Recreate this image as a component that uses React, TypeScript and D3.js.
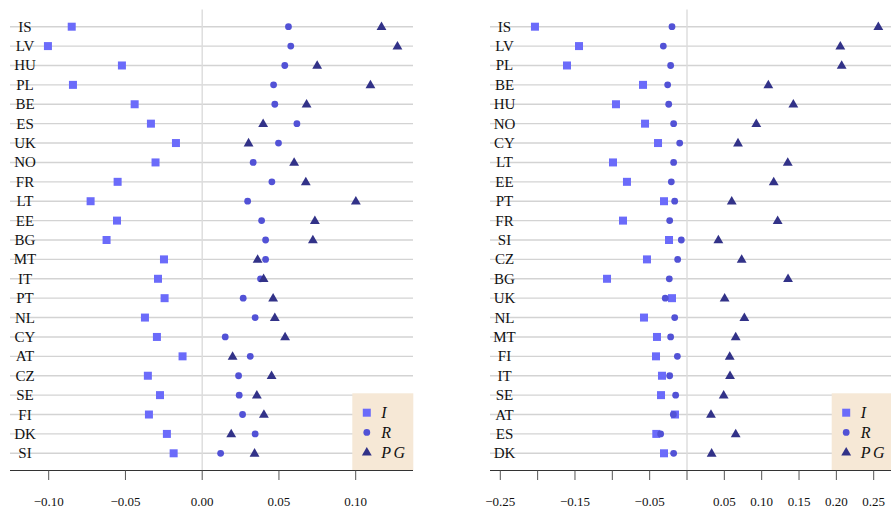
import React from "react";
import * as d3 from "d3";

const leftCountries = ["IS","LV","HU","PL","BE","ES","UK","NO","FR","LT","EE","BG","MT","IT","PT","NL","CY","AT","CZ","SE","FI","DK","SI"];
const leftI = [-0.085,-0.1005,-0.0523,-0.0842,-0.044,-0.0334,-0.0171,-0.0304,-0.0551,-0.0727,-0.0555,-0.0623,-0.0249,-0.0288,-0.0245,-0.0373,-0.0295,-0.0128,-0.0354,-0.0275,-0.0347,-0.023,-0.0186];
const leftR = [0.0562,0.0577,0.0538,0.0465,0.0473,0.0617,0.0497,0.0332,0.0454,0.0296,0.0387,0.0413,0.0413,0.038,0.0267,0.0345,0.015,0.0313,0.0237,0.0241,0.0263,0.0345,0.012];
const leftPG = [0.1168,0.1272,0.0749,0.1096,0.068,0.0397,0.0302,0.0599,0.0675,0.1001,0.0734,0.0721,0.0361,0.04,0.0462,0.0473,0.054,0.0198,0.0452,0.0356,0.0402,0.0189,0.0341];

const rightCountries = ["IS","LV","PL","BE","HU","NO","CY","LT","EE","PT","FR","SI","CZ","BG","UK","NL","MT","FI","IT","SE","AT","ES","DK"];
const rightI = [-0.2036,-0.1446,-0.1607,-0.0589,-0.0951,-0.0562,-0.0388,-0.0991,-0.0804,-0.0308,-0.0857,-0.0241,-0.0536,-0.1071,-0.0201,-0.0576,-0.0402,-0.0415,-0.0335,-0.0348,-0.0161,-0.0411,-0.0308];
const rightR = [-0.0201,-0.0317,-0.0219,-0.0259,-0.0245,-0.0179,-0.0098,-0.0179,-0.021,-0.0165,-0.0232,-0.0076,-0.0125,-0.0237,-0.0291,-0.0165,-0.0219,-0.0129,-0.0232,-0.0152,-0.0183,-0.0353,-0.0179];
const rightPG = [0.2562,0.2053,0.2071,0.1089,0.1424,0.0928,0.0683,0.1349,0.1161,0.0599,0.1214,0.042,0.0732,0.1353,0.0504,0.0768,0.0652,0.0572,0.0576,0.0491,0.0321,0.0652,0.033];

const leftTicks = [-0.1,-0.05,0,0.05,0.1];
const leftTickLabels = ["\u22120.10","\u22120.05","0.00","0.05","0.10"];
const rightTicks = [-0.25,-0.2,-0.15,-0.1,-0.05,0,0.05,0.1,0.15,0.2,0.25];
const rightTickLabels = ["\u22120.25","","\u22120.15","","\u22120.05","","0.05","0.10","0.15","0.20","0.25"];

const seriesNames = ["I","R","PG"];
const COLORS = { I: "#6b6bfa", R: "#5252d6", PG: "#323288" };

const FONT = "Times New Roman, Liberation Serif, Times, serif";

type PanelProps = {
  countries: string[];
  I: number[]; R: number[]; PG: number[];
  domain: [number, number]; range: [number, number];
  ticks: number[]; tickLabels: string[];
  plotLeft: number; plotRight: number; labelX: number;
  legendX: number; legendW: number;
};

function Marker({ kind, x, y }: { kind: string; x: number; y: number }) {
  if (kind === "I") return <rect x={x - 4} y={y - 4} width={8} height={8} fill={COLORS.I} />;
  if (kind === "R") return <circle cx={x} cy={y} r={3.4} fill={COLORS.R} />;
  const tri = d3.symbol().type(d3.symbolTriangle).size(42)();
  return <path d={tri as string} transform={`translate(${x},${y + 0.5})`} fill={COLORS.PG} />;
}

function Panel(p: PanelProps) {
  const x = d3.scaleLinear().domain(p.domain).range(p.range);
  const y = d3.scalePoint<string>().domain(p.countries).range([26.7, 453.3]);
  const axisY = 470.5;
  const series: [string, number[]][] = [["I", p.I], ["R", p.R], ["PG", p.PG]];
  return (
    <g>
      {p.countries.map((c) => (
        <line key={"g" + c} x1={p.plotLeft} x2={p.plotRight} y1={y(c)} y2={y(c)} stroke="#d3d3d3" strokeWidth={1.4} />
      ))}
      <line x1={x(0)} x2={x(0)} y1={9.5} y2={axisY} stroke="#dcdcdc" strokeWidth={1.4} />
      {p.countries.map((c) => (
        <text key={"l" + c} x={p.labelX} y={(y(c) as number) + 5} textAnchor="middle" fontFamily={FONT} fontSize={15} fill="#111">{c}</text>
      ))}
      {series.map(([name, vals]) =>
        vals.map((v, i) => <Marker key={name + i} kind={name} x={x(v)} y={y(p.countries[i]) as number} />)
      )}
      <rect x={p.legendX} y={393.3} width={p.legendW} height={axisY - 393.3} fill="#f6e8d6" />
      {seriesNames.map((s, i) => (
        <g key={"lg" + s}>
          <Marker kind={s} x={p.legendX + 14.5} y={412.7 + i * 19.7} />
          <text x={p.legendX + 29} y={412.7 + i * 19.7 + 5.5} fontFamily={FONT} fontStyle="italic" fontSize={16} letterSpacing={s === "PG" ? 2.5 : 0} fill="#111">{s}</text>
        </g>
      ))}
      <line x1={p.plotLeft} x2={p.plotRight} y1={axisY} y2={axisY} stroke="#333" strokeWidth={1.2} />
      {p.ticks.map((t, i) => (
        <g key={"t" + t}>
          <line x1={x(t)} x2={x(t)} y1={axisY} y2={480} stroke="#555" strokeWidth={1} />
          {p.tickLabels[i] && (
            <text x={x(t)} y={506} textAnchor="middle" fontFamily={FONT} fontSize={13} fill="#111">{p.tickLabels[i]}</text>
          )}
        </g>
      ))}
    </g>
  );
}

export default function App() {
  return (
    <svg width={891} height={514} style={{ position: "absolute", left: 0, top: 0, background: "#fff" }}>
      <Panel countries={leftCountries} I={leftI} R={leftR} PG={leftPG}
        domain={[-0.1, 0.1]} range={[48.7, 355.7]} ticks={leftTicks} tickLabels={leftTickLabels}
        plotLeft={10} plotRight={413} labelX={25} legendX={352.3} legendW={61} />
      <Panel countries={rightCountries} I={rightI} R={rightR} PG={rightPG}
        domain={[-0.25, 0.25]} range={[500.3, 873.7]} ticks={rightTicks} tickLabels={rightTickLabels}
        plotLeft={490} plotRight={891} labelX={504.5} legendX={831.7} legendW={60} />
    </svg>
  );
}
